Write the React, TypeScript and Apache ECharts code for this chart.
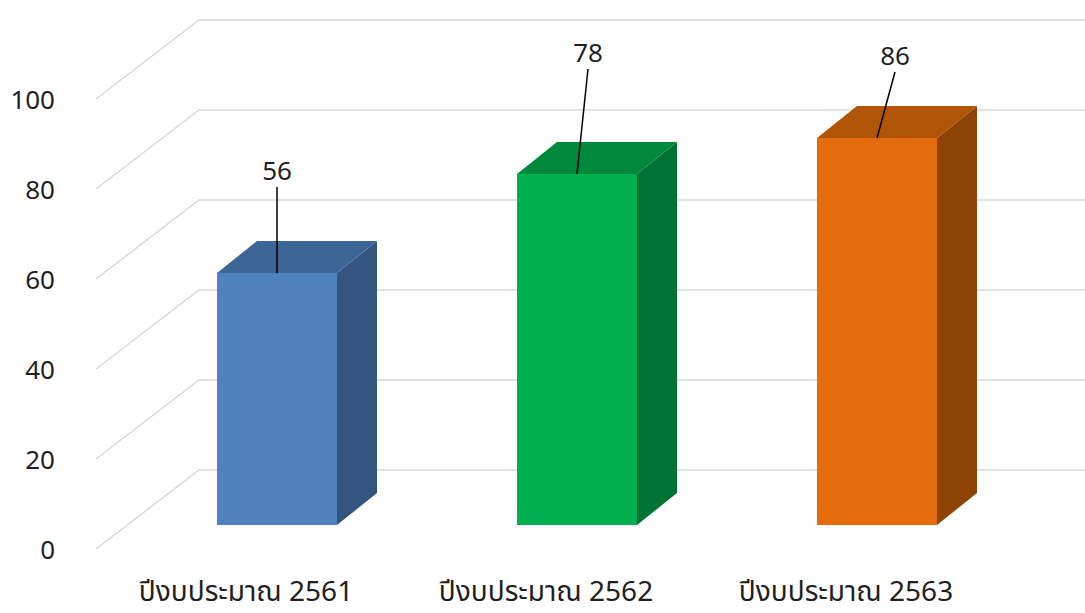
import React, { useEffect, useRef } from "react";
import * as echarts from "echarts";

const categories = ["ปีงบประมาณ 2561", "ปีงบประมาณ 2562", "ปีงบประมาณ 2563"];
const values = [56, 78, 86];
const yTicks = [0, 20, 40, 60, 80, 100];

// styles / layout (not data)
const frontColors = ["#4F81BD", "#00B050", "#E46C0A"];
const topColors = ["#3D6596", "#00883D", "#B05406"];
const sideColors = ["#34557F", "#007233", "#8F4305"];
const labelShift = [
  [0, -103],
  [11, -122],
  [18, -83],
];
const FONT = "'Noto Sans', 'Noto Sans Thai', 'Leelawadee UI', 'DejaVu Sans', sans-serif";
const FRONT_DX = 31;
const FRONT_DY = -24;
const DEPTH_DX = 40;
const DEPTH_DY = -32;
const WALL_DX = 103;
const WALL_DY = -79;

export default function App() {
  const ref = useRef<HTMLDivElement>(null);
  useEffect(() => {
    if (!ref.current) return;
    const chart = echarts.init(ref.current, undefined, { renderer: "svg" });
    chart.setOption({
      animation: false,
      backgroundColor: "#ffffff",
      grid: { left: 96, top: 99, width: 900, height: 450 },
      xAxis: {
        type: "category",
        data: categories,
        axisLine: { show: false },
        axisTick: { show: false },
        axisLabel: {
          fontFamily: FONT,
          fontSize: 28,
          color: "#1f1f1f",
          margin: 27,
        },
      },
      yAxis: {
        type: "value",
        min: 0,
        max: 100,
        interval: 20,
        axisLine: { show: false },
        axisTick: { show: false },
        splitLine: { show: false },
        axisLabel: {
          fontFamily: FONT,
          fontSize: 26,
          color: "#1f1f1f",
          margin: 41,
        },
      },
      series: [
        {
          type: "custom",
          clip: false,
          silent: true,
          z: 1,
          data: yTicks.map((t) => [0, t]),
          encode: { x: 0, y: 1 },
          renderItem: (params: any, api: any) => {
            const y = api.coord([0, api.value(1)])[1];
            const cs = params.coordSys;
            const x0 = cs.x;
            return {
              type: "polyline",
              shape: {
                points: [
                  [x0, y],
                  [x0 + WALL_DX, y + WALL_DY],
                  [x0 + cs.width + WALL_DX + 40, y + WALL_DY],
                ],
              },
              style: { stroke: "#D9D9D9", lineWidth: 1.5, fill: "none" },
            };
          },
        },
        {
          type: "custom",
          clip: false,
          z: 5,
          data: values.map((v, i) => [i, v]),
          encode: { x: 0, y: 1 },
          renderItem: (params: any, api: any) => {
            const idx = api.value(0);
            const v = api.value(1);
            const base = api.coord([idx, 0]);
            const top = api.coord([idx, v]);
            const band = api.size([1, 0])[0];
            const w = band * 0.4;
            const cx = base[0] + FRONT_DX;
            const fx = cx - w / 2;
            const fyB = base[1] + FRONT_DY;
            const fyT = top[1] + FRONT_DY;
            const [lsx, lsy] = labelShift[idx];
            const lx = cx + lsx;
            const ly = fyT + lsy;
            return {
              type: "group",
              children: [
                {
                  type: "polygon",
                  shape: {
                    points: [
                      [fx + w, fyT],
                      [fx + w + DEPTH_DX, fyT + DEPTH_DY],
                      [fx + w + DEPTH_DX, fyB + DEPTH_DY],
                      [fx + w, fyB],
                    ],
                  },
                  style: { fill: sideColors[idx] },
                },
                {
                  type: "polygon",
                  shape: {
                    points: [
                      [fx, fyT],
                      [fx + DEPTH_DX, fyT + DEPTH_DY],
                      [fx + w + DEPTH_DX, fyT + DEPTH_DY],
                      [fx + w, fyT],
                    ],
                  },
                  style: { fill: topColors[idx] },
                },
                {
                  type: "rect",
                  shape: { x: fx, y: fyT, width: w, height: fyB - fyT },
                  style: { fill: frontColors[idx] },
                },
                {
                  type: "line",
                  shape: { x1: lx, y1: ly + 17, x2: cx, y2: fyT },
                  style: { stroke: "#000000", lineWidth: 1.5 },
                },
                {
                  type: "text",
                  x: lx,
                  y: ly,
                  style: {
                    text: String(v),
                    fontFamily: FONT,
                    fontSize: 26,
                    fill: "#1f1f1f",
                    align: "center",
                    verticalAlign: "middle",
                  },
                },
              ],
            };
          },
        },
      ],
    });
    return () => chart.dispose();
  }, []);
  return (
    <div
      ref={ref}
      style={{ position: "absolute", left: 0, top: 0, width: 1085, height: 613 }}
    />
  );
}
